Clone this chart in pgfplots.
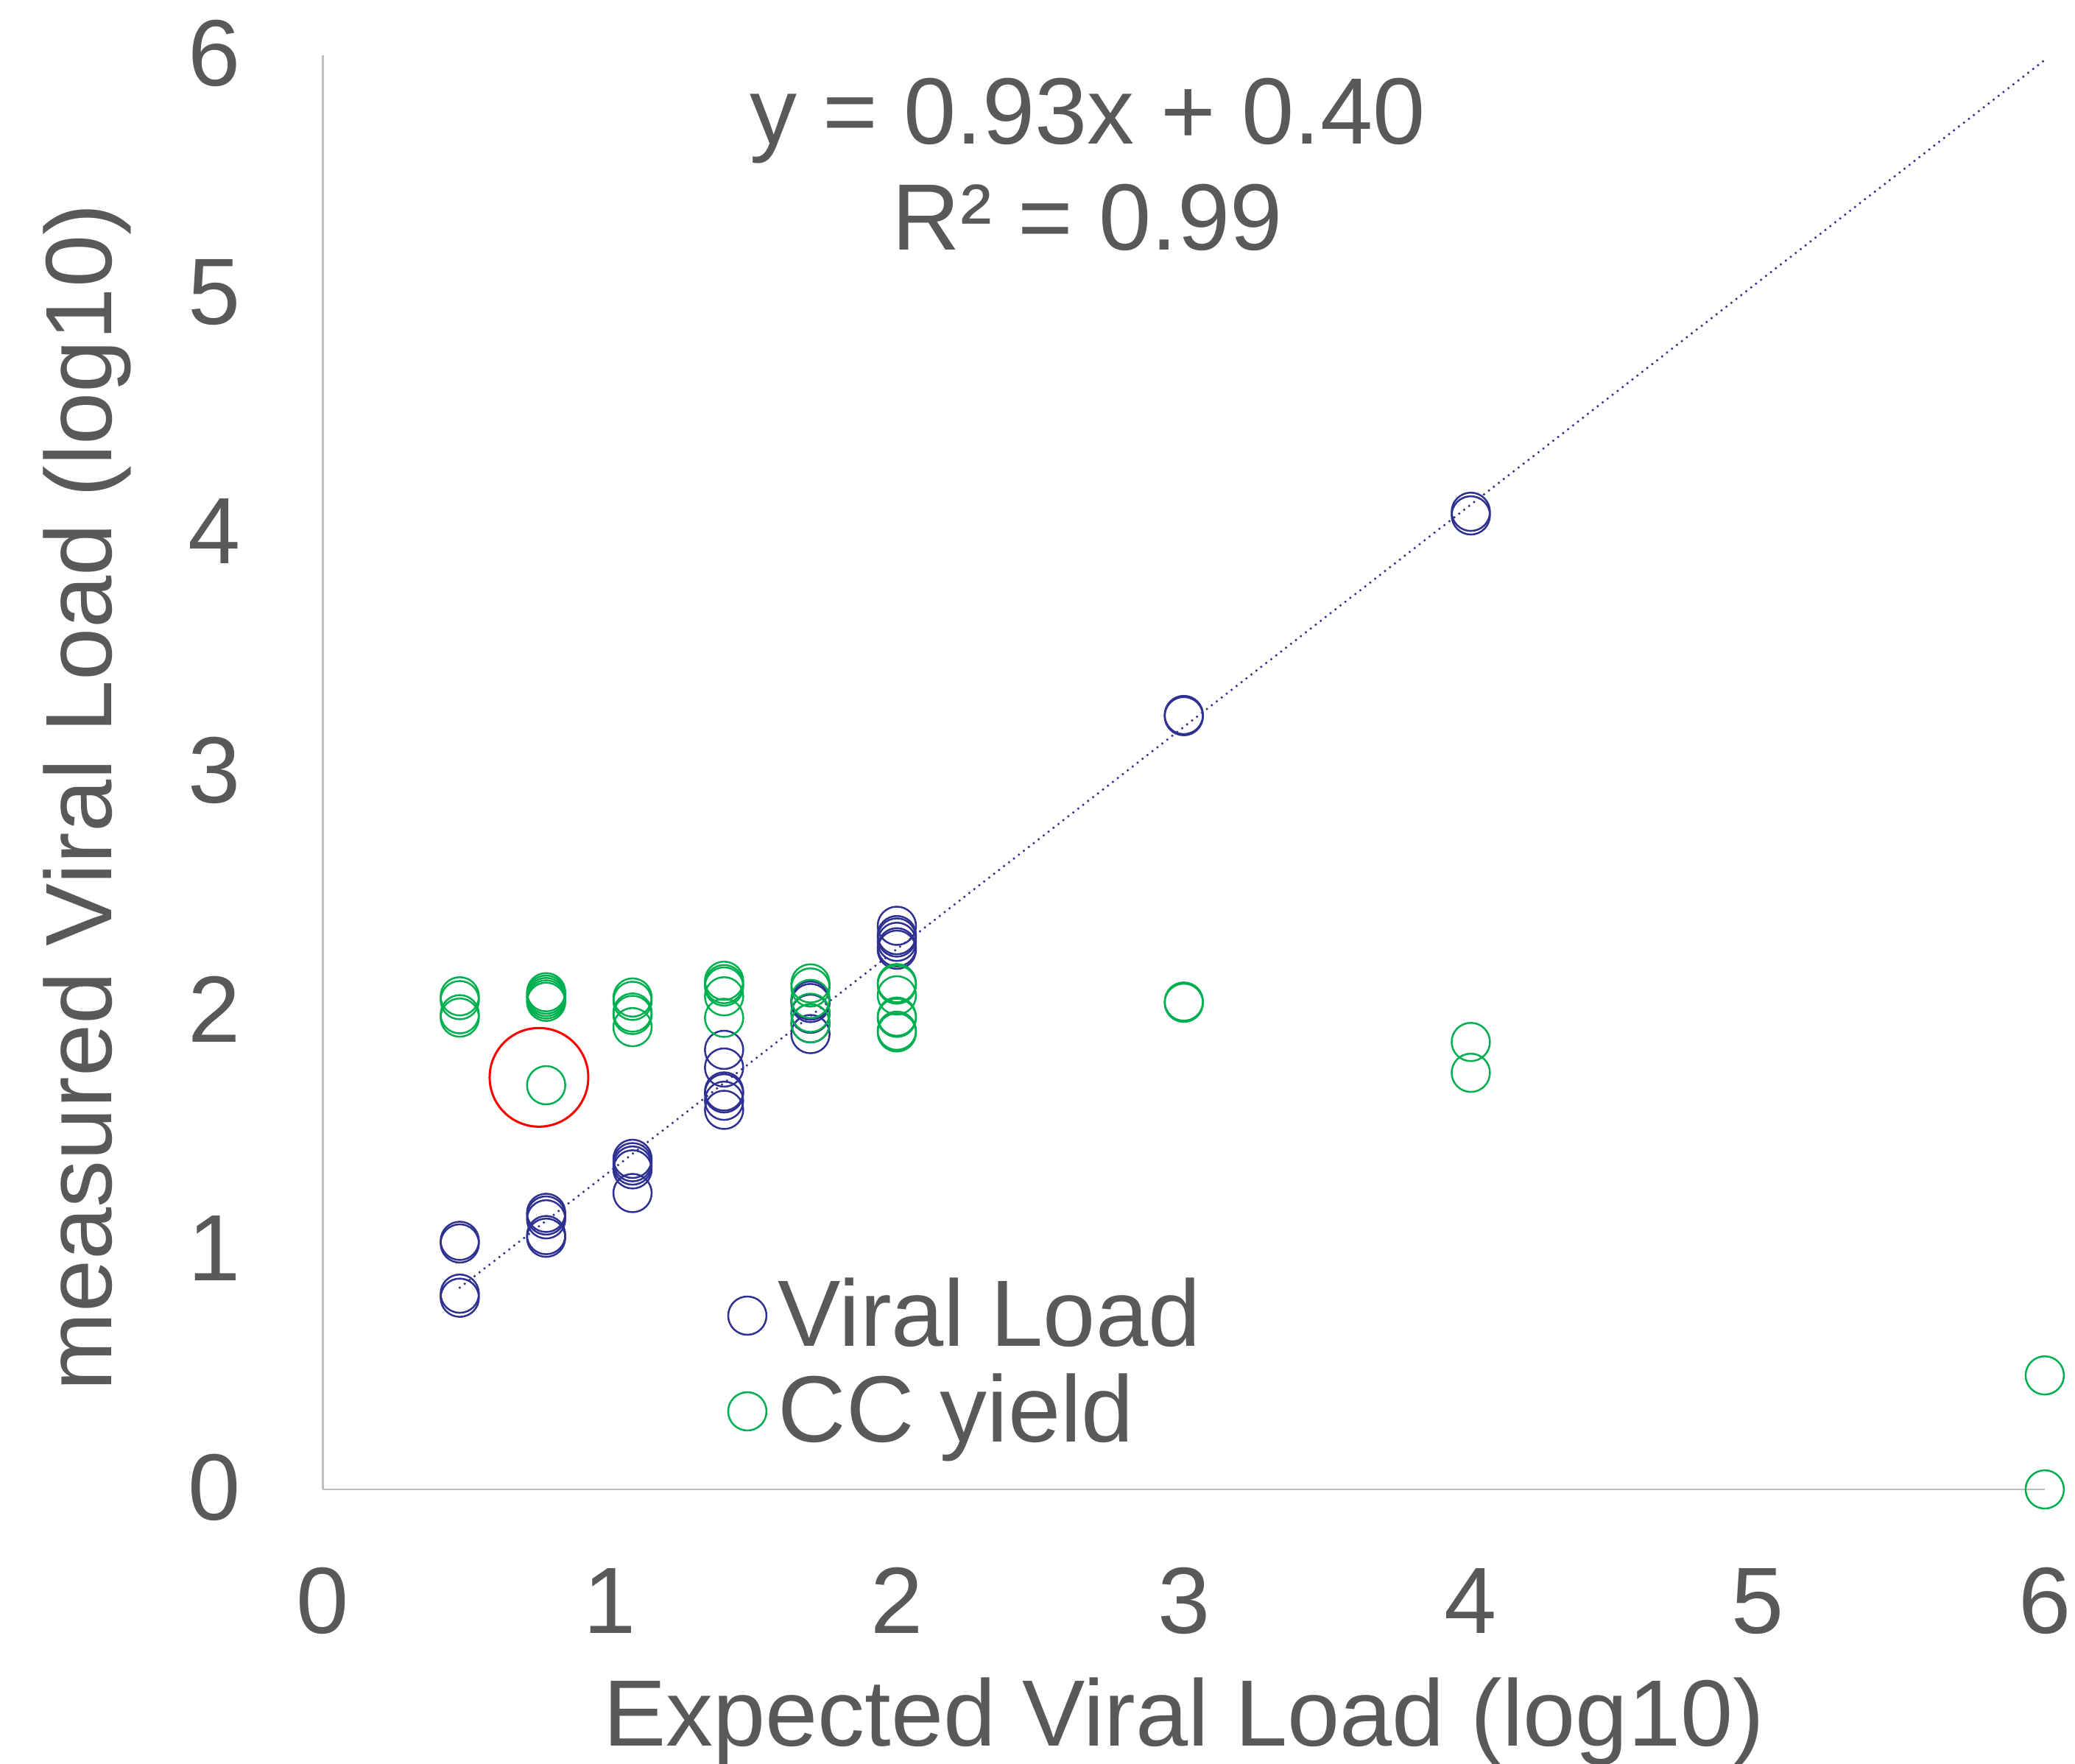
\documentclass[border=0pt]{standalone}
\usepackage{fontspec}
\setmainfont{Liberation Sans}
\usepackage{pgfplots}
\pgfplotsset{compat=1.18}
\definecolor{vlblue}{RGB}{46,49,146}
\definecolor{ccgreen}{RGB}{0,176,80}
\definecolor{txtgray}{RGB}{89,89,89}
\definecolor{axgray}{RGB}{191,191,191}
\newcommand{\chartfont}{\fontsize{12.8}{15}\selectfont}
\begin{document}
\begin{tikzpicture}
\begin{axis}[
  at={(0pt,0pt)}, anchor=south west,
  scale only axis, width=233.85pt, height=194.8pt,
  xmin=0, xmax=6, ymin=0, ymax=6,
  axis lines=left, axis line style={-, draw=axgray, line width=0.25pt},
  xtick={0,1,2,3,4,5,6}, ytick={0,1,2,3,4,5,6},
  major tick length=0pt,
  /pgf/number format/assume math mode=true,
  tick label style={font=\chartfont, text=txtgray},
  xticklabel style={anchor=base, yshift=-19.5pt},
  yticklabel style={anchor=east, inner sep=0pt, xshift=-11pt, yshift=0.3pt},
  xlabel={Expected Viral Load (log10)},
  ylabel={measured Viral Load (log10)},
  every axis x label/.style={at={(axis description cs:0.5,0)}, anchor=base, yshift=-34.87pt, font=\chartfont, text=txtgray},
  every axis y label/.style={at={(axis description cs:-0.1229,0.4825)}, anchor=base, rotate=90, font=\chartfont, text=txtgray},
  clip=false,
  legend cell align=left,
  legend style={at={(axis description cs:0.2354,0.153)}, anchor=north west, draw=none, fill=none, inner sep=0pt, outer sep=0pt, column sep=1.57pt, row sep=0.6pt, font=\chartfont, text=txtgray, nodes={inner sep=0pt, text height=10.4pt, text depth=2pt}},
  legend image code/.code={\draw[#1] plot coordinates {(0pt,0pt)};},
]
\addplot[only marks, mark=o, mark size=2.6pt, color=vlblue, line width=0.25pt] coordinates {
 (0.477,1.040) (0.477,1.029) (0.477,0.819) (0.477,0.802)
 (0.778,1.157) (0.778,1.146) (0.778,1.130) (0.778,1.064) (0.778,1.053)
 (1.079,1.383) (1.079,1.369) (1.079,1.355) (1.079,1.339) (1.079,1.240)
 (1.398,1.839) (1.398,1.765) (1.398,1.665) (1.398,1.657) (1.398,1.626) (1.398,1.588)
 (1.699,2.045) (1.699,2.035) (1.699,1.990) (1.699,1.950) (1.699,1.905)
 (2.000,2.358) (2.000,2.319) (2.000,2.309) (2.000,2.291) (2.000,2.268) (2.000,2.258)
 (3.000,3.240) (3.000,3.235)
 (4.000,4.090) (4.000,4.075)
};
\addlegendentry{Viral Load}
\addplot[only marks, mark=o, mark size=2.6pt, color=ccgreen, line width=0.25pt] coordinates {
 (0.477,2.063) (0.477,2.047) (0.477,1.988) (0.477,1.974)
 (0.778,2.080) (0.778,2.070) (0.778,2.060) (0.778,2.050) (0.778,2.040) (0.778,1.691)
 (1.079,2.058) (1.079,2.044) (1.079,1.995) (1.079,1.985) (1.079,1.934)
 (1.398,2.128) (1.398,2.114) (1.398,2.104) (1.398,2.063) (1.398,1.973)
 (1.699,2.117) (1.699,2.100) (1.699,2.052) (1.699,1.994) (1.699,1.950)
 (2.000,2.118) (2.000,2.112) (2.000,2.067) (2.000,1.978) (2.000,1.973) (2.000,1.919) (2.000,1.912)
 (3.000,2.041) (3.000,2.036)
 (4.000,1.872) (4.000,1.743)
 (6.000,0.477) (6.000,0.000)
};
\addlegendentry{CC yield}
\addplot[vlblue, line width=0.35pt, dash pattern=on 0pt off 0.85pt, line cap=round, forget plot] coordinates {(0.477,0.844) (6,5.98)};
\addplot[only marks, mark=o, mark size=6.7pt, color=red, line width=0.3pt, forget plot] coordinates {(0.753,1.724)};
\node[anchor=base, font=\chartfont, text=txtgray] at (axis description cs:0.4441,0.9384) {y = 0.93x + 0.40};
\node[anchor=base, font=\chartfont, text=txtgray] at (axis description cs:0.4441,0.8640) {R² = 0.99};
\end{axis}
\pgfresetboundingbox
\path[use as bounding box] (-43.85pt,-37.2pt) rectangle (237.95pt,202.3pt);
\end{tikzpicture}
\end{document}
